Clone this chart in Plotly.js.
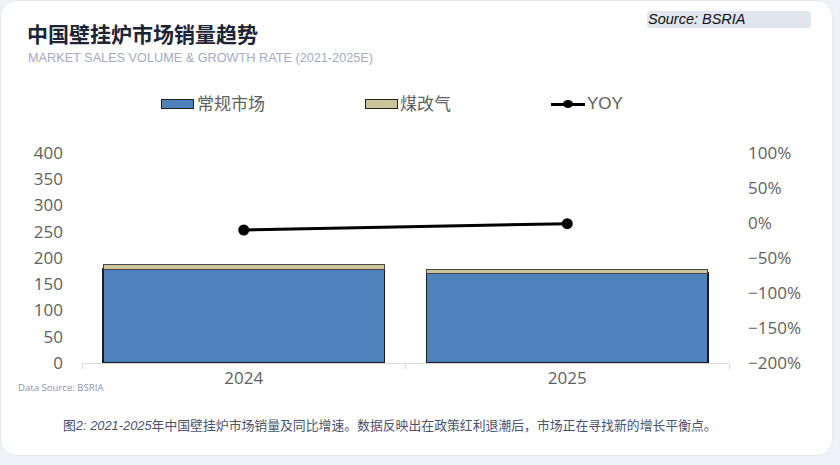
<!DOCTYPE html>
<html>
<head>
<meta charset="utf-8">
<script src="https://cdn.plot.ly/plotly-3.0.1.min.js"></script>
<style>
html,body{margin:0;padding:0;background:#eef1f6;width:840px;height:465px;overflow:hidden;}
#card{position:absolute;left:0;top:0;width:833px;height:456px;background:#fff;border-radius:16px;border:1px solid #e4e8ef;box-sizing:border-box;}
#chart{position:absolute;left:0;top:0;width:840px;height:465px;}
.t{position:absolute;white-space:nowrap;font-family:"Noto Sans CJK SC","Noto Sans",sans-serif;}
#title{left:27px;top:18px;font-size:21px;font-weight:bold;color:#1d2433;}
#sub{left:28px;top:51px;font-size:12.7px;color:#a3aac4;font-family:"Liberation Sans",Arial,sans-serif;}
#src{left:647px;top:11px;width:164px;height:17px;background:#e1e5ee;border-radius:4px;font-family:"Liberation Sans",Arial,sans-serif;font-style:italic;font-size:14.5px;color:#111;line-height:17px;padding-left:1px;box-sizing:border-box;}
#ds{left:18px;top:381px;font-size:9.6px;color:#8a94b0;font-family:"Open Sans","Noto Sans",sans-serif;}
#cap{left:63px;top:415px;font-size:12.85px;color:#4a5270;}
#cap i{font-family:"Liberation Sans",Arial,sans-serif;}
.lg{position:absolute;font-family:"Noto Sans CJK SC",sans-serif;font-size:17px;color:#606060;white-space:nowrap;}
.box{position:absolute;width:31px;height:8px;border:1.5px solid #222;}
</style>
</head>
<body>
<div id="card"></div>
<div id="chart"></div>
<div class="t" id="title">中国壁挂炉市场销量趋势</div>
<div class="t" id="sub">MARKET SALES VOLUME &amp; GROWTH RATE (2021-2025E)</div>
<div class="t" id="src">Source: BSRIA</div>
<div class="t" id="ds">Data Source: BSRIA</div>
<div class="t" id="cap">图<i>2: 2021-2025</i>年中国壁挂炉市场销量及同比增速。数据反映出在政策红利退潮后，市场正在寻找新的增长平衡点。</div>
<div id="legend"></div>
<script>
// Data
var years = ["2024", "2025"];
var regular = [179, 171];      // 常规市场
var coalToGas = [8, 8];        // 煤改气
var yoy = [-10, -1];           // YOY (%)
var seriesNames = ["常规市场", "煤改气", "YOY"];
var seriesColors = ["#4f81bd", "#cdc49b", "#000000"];

var traces = [
  {type:"bar", name:seriesNames[0], x:years, y:regular,
   marker:{color:seriesColors[0], line:{color:"#1a1a1a", width:1.5}}, width:0.87, yaxis:"y"},
  {type:"bar", name:seriesNames[1], x:years, y:coalToGas,
   marker:{color:seriesColors[1], line:{color:"#444", width:1}}, width:0.87, yaxis:"y"},
  {type:"scatter", mode:"lines+markers", name:seriesNames[2], x:years, y:yoy,
   line:{color:seriesColors[2], width:3}, marker:{color:"#000", size:11}, yaxis:"y2"}
];

var tickFont = {family:"Open Sans, Noto Sans, sans-serif", size:17, color:"#5f5f5f"};
var layout = {
  width:840, height:465,
  margin:{l:82, r:111, t:153, b:102},
  paper_bgcolor:"rgba(0,0,0,0)", plot_bgcolor:"rgba(0,0,0,0)",
  barmode:"stack", showlegend:false,
  xaxis:{type:"category", showgrid:false, showline:true, linecolor:"#d9d9d9", linewidth:1,
         ticks:"outside", tickson:"boundaries", ticklen:5, tickcolor:"#d9d9d9",
         tickfont:tickFont, zeroline:false},
  yaxis:{range:[0,400], dtick:50, showgrid:false, zeroline:false, showline:false,
         tickfont:tickFont, ticks:"", ticklabelstandoff:18},
  yaxis2:{range:[-200,100], dtick:50, overlaying:"y", side:"right", showgrid:false,
          zeroline:false, showline:false, ticksuffix:"%", tickfont:tickFont, ticklabelstandoff:18}
};
Plotly.newPlot("chart", traces, layout, {displayModeBar:false, staticPlot:true});

// Legend (HTML)
var lg = document.getElementById("legend");
var items = [
  {kind:"box", x:161, tx:197},
  {kind:"box", x:365, tx:400},
  {kind:"line", x:551, tx:587}
];
items.forEach(function(it, i){
  if (it.kind === "box") {
    var b = document.createElement("div");
    b.className = "box";
    b.style.left = it.x + "px"; b.style.top = "99px";
    b.style.background = seriesColors[i];
    lg.appendChild(b);
  } else {
    var l = document.createElement("div");
    l.style.cssText = "position:absolute;left:"+it.x+"px;top:103px;width:34px;height:3px;background:#000;";
    lg.appendChild(l);
    var d = document.createElement("div");
    d.style.cssText = "position:absolute;left:"+(it.x+12)+"px;top:100px;width:10px;height:8px;border-radius:50%;background:#000;";
    lg.appendChild(d);
  }
  var t = document.createElement("div");
  t.className = "lg";
  t.style.left = it.tx + "px";
  t.style.top = "90px";
  if (it.kind === "line") {
    t.style.fontFamily = "'Liberation Sans', Arial, sans-serif";
    t.style.top = "94px";
  }
  t.textContent = seriesNames[i];
  lg.appendChild(t);
});
</script>
</body>
</html>
